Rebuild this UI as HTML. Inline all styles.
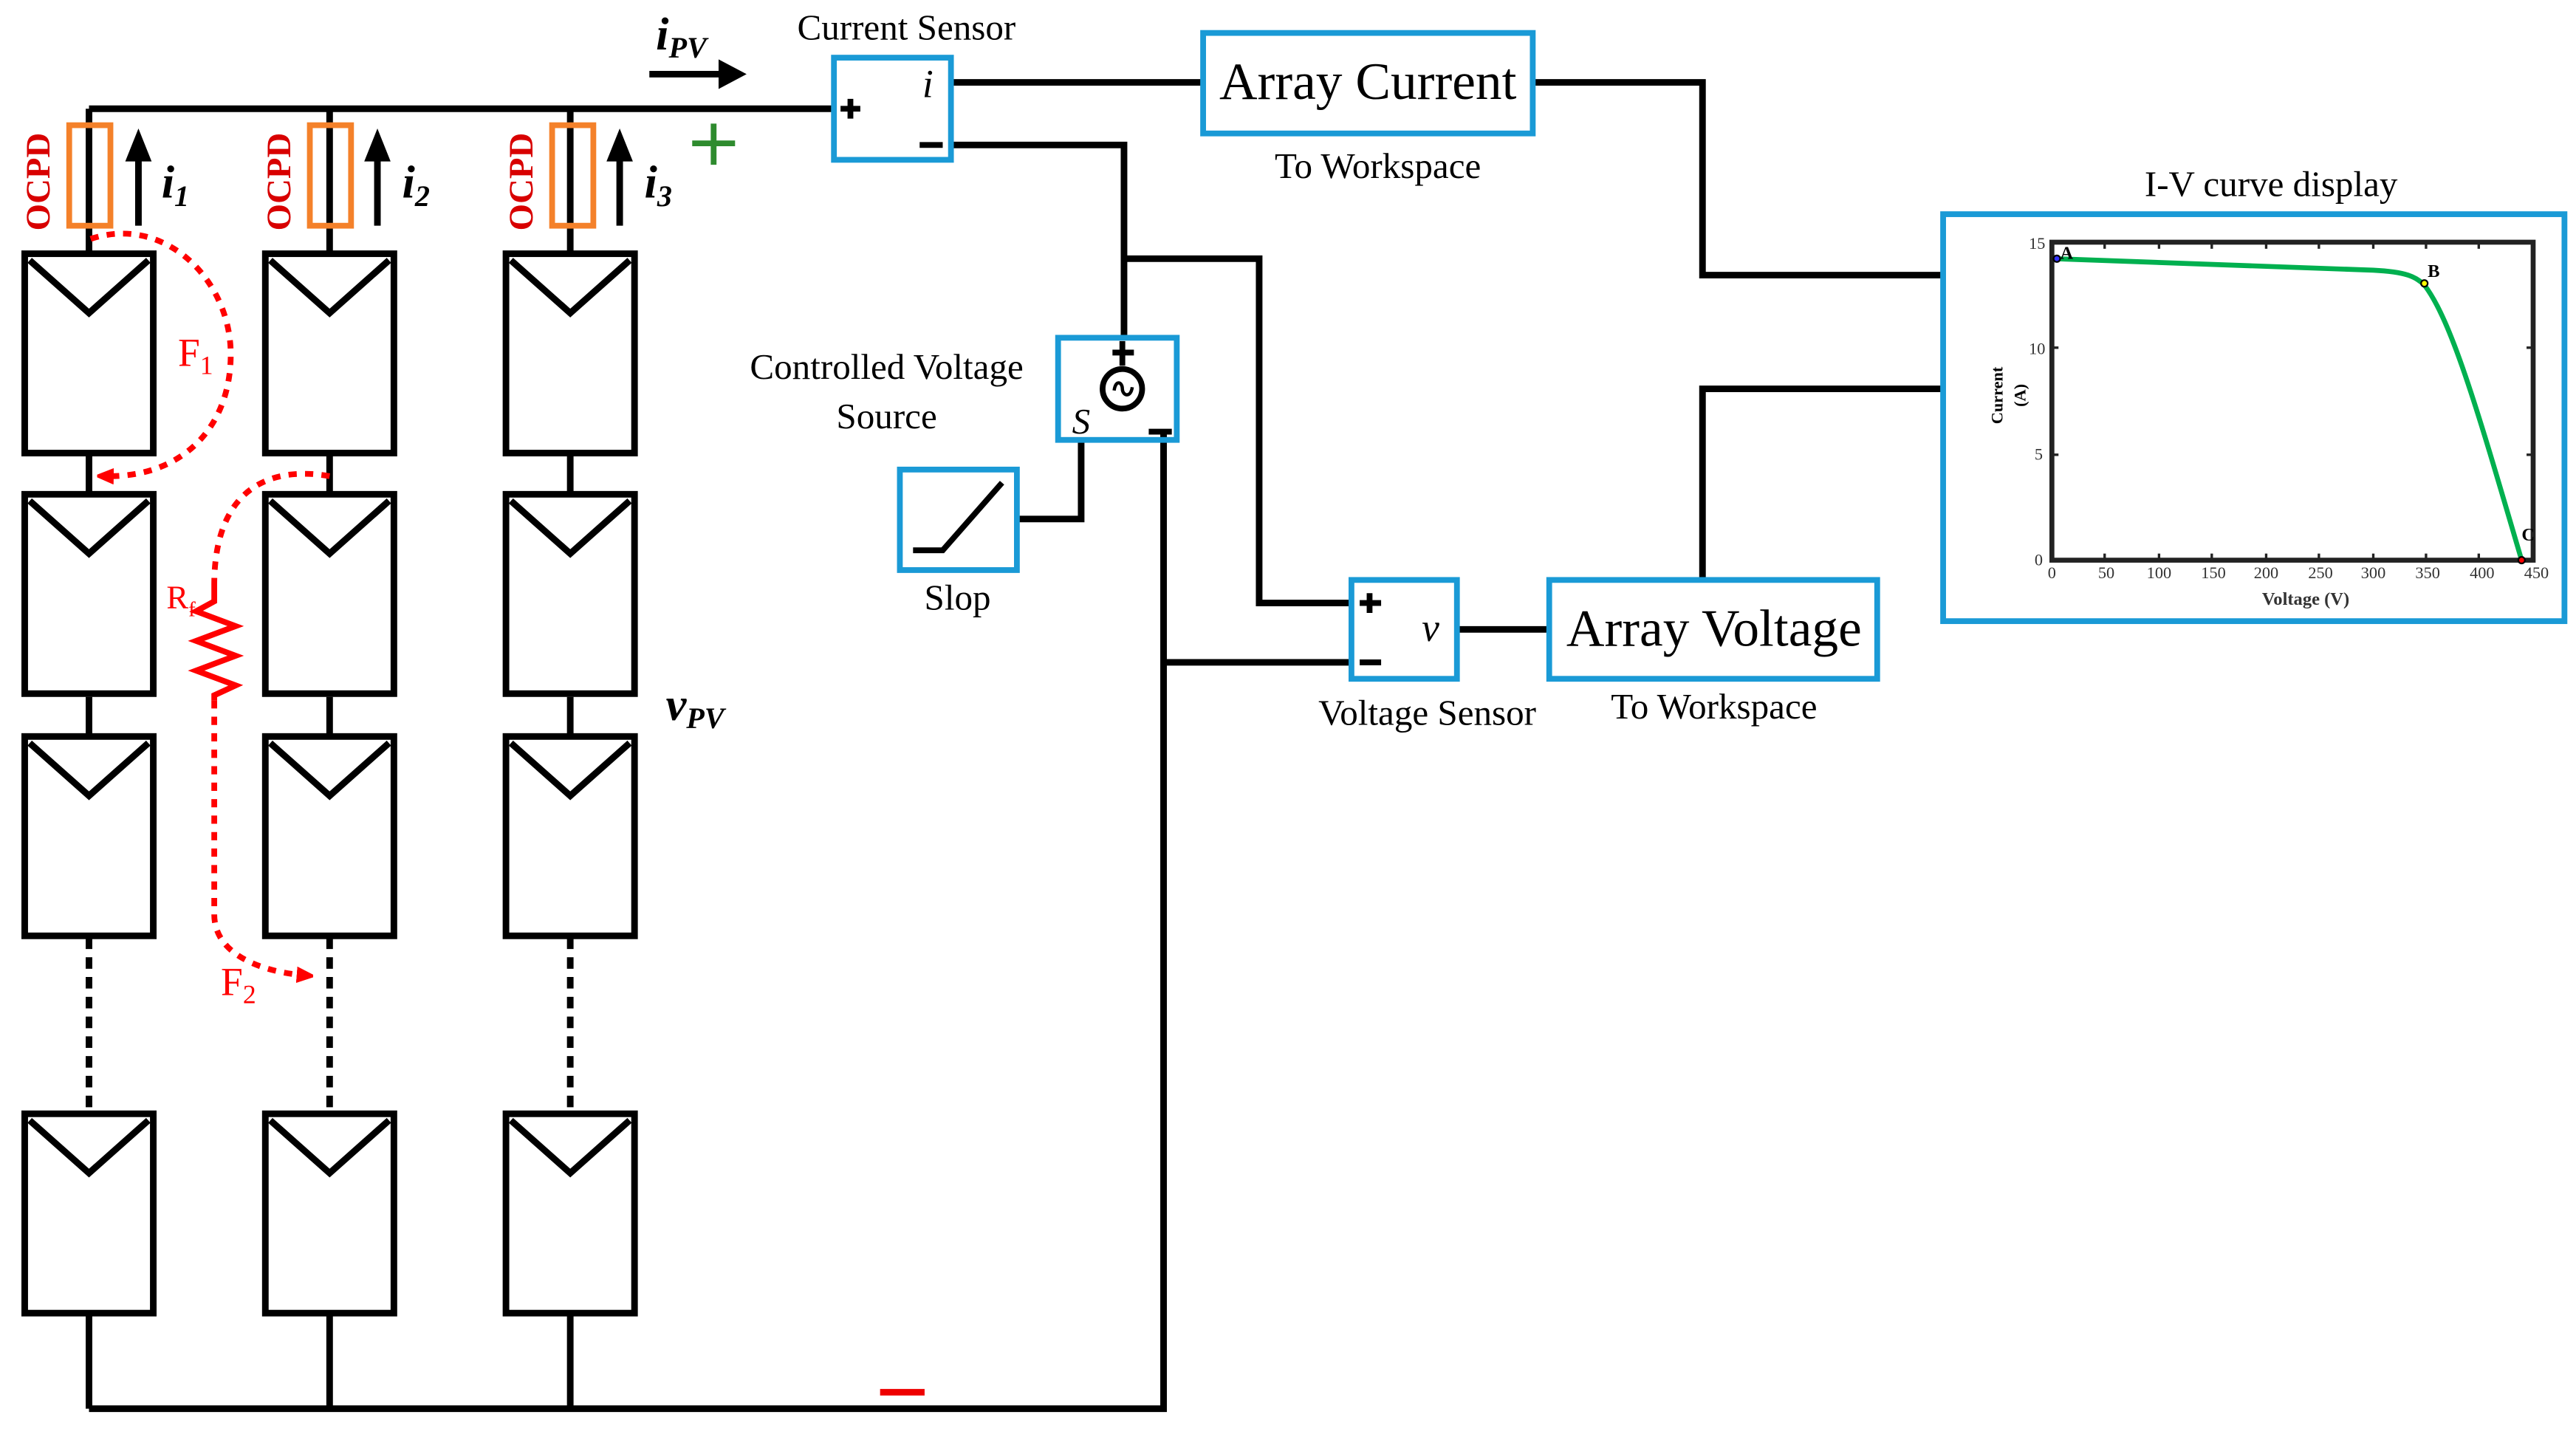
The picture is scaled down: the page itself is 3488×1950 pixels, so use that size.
<!DOCTYPE html>
<html><head><meta charset="utf-8"><style>html,body{margin:0;padding:0;background:#fff;}svg{display:block}svg text{font-family:"Liberation Serif","Times New Roman",serif;}</style></head>
<body>
<svg width="3488" height="1950" viewBox="0 0 1563 874" preserveAspectRatio="none" xmlns="http://www.w3.org/2000/svg" style="font-family:'Liberation Serif',serif" font-family="Liberation Serif, serif">
<defs>
<marker id="ah" markerWidth="10" markerHeight="10" refX="5" refY="5" orient="auto" markerUnits="userSpaceOnUse"><path d="M0,0 L12,5 L0,10 z" fill="#f00"/></marker>
</defs>
<g stroke="#000" stroke-width="4" fill="none">
<path d="M54,66 H506"/>
<path d="M54,66 V153 M200,66 V153 M346,66 V153"/>
<path d="M54,276 V299 M54,423 V446 M200,276 V299 M200,423 V446 M346,276 V299 M346,423 V446"/>
<path d="M54,569 V675 M200,569 V675 M346,569 V675" stroke-dasharray="7,5"/>
<path d="M54,798 V855 M200,798 V855 M346,798 V855 M54,855 H706 V262"/>
<path d="M706,402 H820"/>
<path d="M577,50 H730"/>
<path d="M930,50 H1033 V167 H1179"/>
<path d="M577,88 H682 V205 M682,157 H764 V366 H820"/>
<path d="M617,315 H656 V267"/>
<path d="M884,382 H940"/>
<path d="M1033,352 V236 H1179"/>
</g>
<g stroke="#000" stroke-width="4" fill="#fff">
<g id="p"><rect x="15" y="154" width="78" height="121"/><path d="M18,158 L54,190 L90,158" fill="none"/></g>
<use href="#p" x="146"/><use href="#p" x="292"/>
<use href="#p" y="146"/><use href="#p" x="146" y="146"/><use href="#p" x="292" y="146"/>
<use href="#p" y="293"/><use href="#p" x="146" y="293"/><use href="#p" x="292" y="293"/>
<use href="#p" y="522"/><use href="#p" x="146" y="522"/><use href="#p" x="292" y="522"/>
</g>
<g stroke="#f4812a" stroke-width="3.5" fill="none">
<rect x="42" y="76" width="25" height="61"/><rect x="188" y="76" width="25" height="61"/><rect x="335" y="76" width="25" height="61"/>
</g>
<g fill="#d80000" font-weight="bold" font-size="21">
<text transform="translate(30,140) rotate(-90)">OCPD</text>
<text transform="translate(176,140) rotate(-90)">OCPD</text>
<text transform="translate(323,140) rotate(-90)">OCPD</text>
</g>
<g stroke="#000" stroke-width="4"><path d="M84,137 V95 M229,137 V95 M376,137 V95"/><path d="M394,45 H440"/></g>
<g fill="#000"><path d="M76,98 L84,78 L92,98 z M221,98 L229,78 L237,98 z M368,98 L376,78 L384,98 z M436,36 L453,45 L436,54 z"/></g>
<g font-style="italic" font-weight="bold" font-size="28" fill="#000">
<text x="98" y="120">i<tspan font-size="18" dy="5">1</tspan></text>
<text x="244" y="120">i<tspan font-size="18" dy="5">2</tspan></text>
<text x="391" y="120">i<tspan font-size="18" dy="5">3</tspan></text>
<text x="398" y="30">i<tspan font-size="18" dy="5">PV</tspan></text>
<text x="404" y="437">v<tspan font-size="18" dy="5">PV</tspan></text>
</g>
<path d="M420,87 H446 M433,75 V100" stroke="#2e8b2e" stroke-width="3.5"/>
<path d="M534,845 H561" stroke="#e00" stroke-width="4"/>
<g stroke="#f00" stroke-width="3.5" fill="none" stroke-dasharray="5,5">
<path d="M55,145 C100,130 140,170 140,215 C140,260 110,290 64,289" marker-end="url(#ah)"/>
<path d="M200,289 C160,282 130,300 130,355"/>
<path d="M130,425 V555 C130,580 160,590 185,592" marker-end="url(#ah)"/>
</g>
<path d="M130,355 V365 L119,371 L143,380 L119,389 L143,398 L119,407 L143,416 L130,422 V425" stroke="#f00" stroke-width="3.5" fill="none"/>
<g fill="#f00" font-size="24">
<text x="108" y="222">F<tspan font-size="16" dy="5">1</tspan></text>
<text x="134" y="604">F<tspan font-size="16" dy="5">2</tspan></text>
<text x="101" y="369" font-size="20">R<tspan font-size="13" dy="5">f</tspan></text>
</g>
<g stroke="#1a9ad6" stroke-width="3.5" fill="none">
<rect x="506" y="35" width="71" height="62"/>
<rect x="730" y="20" width="200" height="61"/>
<rect x="642" y="205" width="72" height="62"/>
<rect x="546" y="285" width="71" height="61"/>
<rect x="820" y="352" width="64" height="60"/>
<rect x="940" y="352" width="199" height="60"/>
<rect x="1179" y="130" width="377" height="247"/>
</g>
<g stroke="#000" stroke-width="3.5" fill="none">
<path d="M510,66 H522 M516,60 V72 M558,88 H572"/>
<path d="M675,214 H688 M681,207 V222"/>
<circle cx="681" cy="236" r="12"/>
<path d="M676,237 C677,230 681,232 681,236 C681,240 686,242 687,235" stroke-width="2"/>
<path d="M697,262 H711"/>
<path d="M554,334 H572 L608,293"/>
<path d="M825,366 H838 M831,360 V372 M825,402 H838"/>
</g>
<g fill="#000" font-size="22" text-anchor="middle">
<text x="550" y="24">Current Sensor</text>
<text x="563" y="59" font-style="italic" font-size="24">i</text>
<text x="830" y="60" font-size="32">Array Current</text>
<text x="836" y="108">To Workspace</text>
<text x="538" y="230">Controlled Voltage</text>
<text x="538" y="260">Source</text>
<text x="656" y="263" font-style="italic">S</text>
<text x="581" y="370">Slop</text>
<text x="868" y="389" font-style="italic" font-size="24">v</text>
<text x="866" y="440">Voltage Sensor</text>
<text x="1040" y="392" font-size="32">Array Voltage</text>
<text x="1040" y="436">To Workspace</text>
<text x="1378" y="119">I-V curve display</text>
</g>
<rect x="1245" y="147" width="292" height="193" fill="none" stroke="#222" stroke-width="3"/>
<g stroke="#222" stroke-width="1.5">
<path d="M1277,147 v4 M1310,147 v4 M1342,147 v4 M1375,147 v4 M1407,147 v4 M1440,147 v4 M1472,147 v4 M1504,147 v4"/>
<path d="M1277,340 v-4 M1310,340 v-4 M1342,340 v-4 M1375,340 v-4 M1407,340 v-4 M1440,340 v-4 M1472,340 v-4 M1504,340 v-4"/>
<path d="M1245,211 h4 M1245,276 h4 M1537,211 h-4 M1537,276 h-4"/>
</g>
<path d="M1246,157 L1440,164 C1460,165 1466,168 1471,173 C1488,195 1505,255 1530,340" stroke="#00b04f" stroke-width="3" fill="none"/>
<circle cx="1248" cy="157" r="2" fill="#33f" stroke="#000"/>
<circle cx="1471" cy="172" r="2" fill="#ff0" stroke="#000"/>
<circle cx="1530" cy="340" r="2" fill="#f00" stroke="#000"/>
<g font-size="10" fill="#333" text-anchor="middle">
<text x="1245" y="351">0</text><text x="1278" y="351">50</text><text x="1310" y="351">100</text><text x="1343" y="351">150</text><text x="1375" y="351">200</text><text x="1408" y="351">250</text><text x="1440" y="351">300</text><text x="1473" y="351">350</text><text x="1506" y="351">400</text><text x="1539" y="351">450</text>
<text x="1237" y="343">0</text><text x="1237" y="279">5</text><text x="1236" y="215">10</text><text x="1236" y="151">15</text>
<text x="1399" y="367" font-weight="bold" font-size="11">Voltage (V)</text>
<text transform="translate(1215,240) rotate(-90)" font-weight="bold" font-size="10" fill="#000">Current</text>
<text transform="translate(1229,240) rotate(-90)" font-weight="bold" font-size="10" fill="#000">(A)</text>
</g>
<g font-size="11" font-weight="bold" fill="#000"><text x="1250" y="157">A</text><text x="1473" y="168">B</text><text x="1530" y="328">C</text></g>
</svg>
</body></html>
